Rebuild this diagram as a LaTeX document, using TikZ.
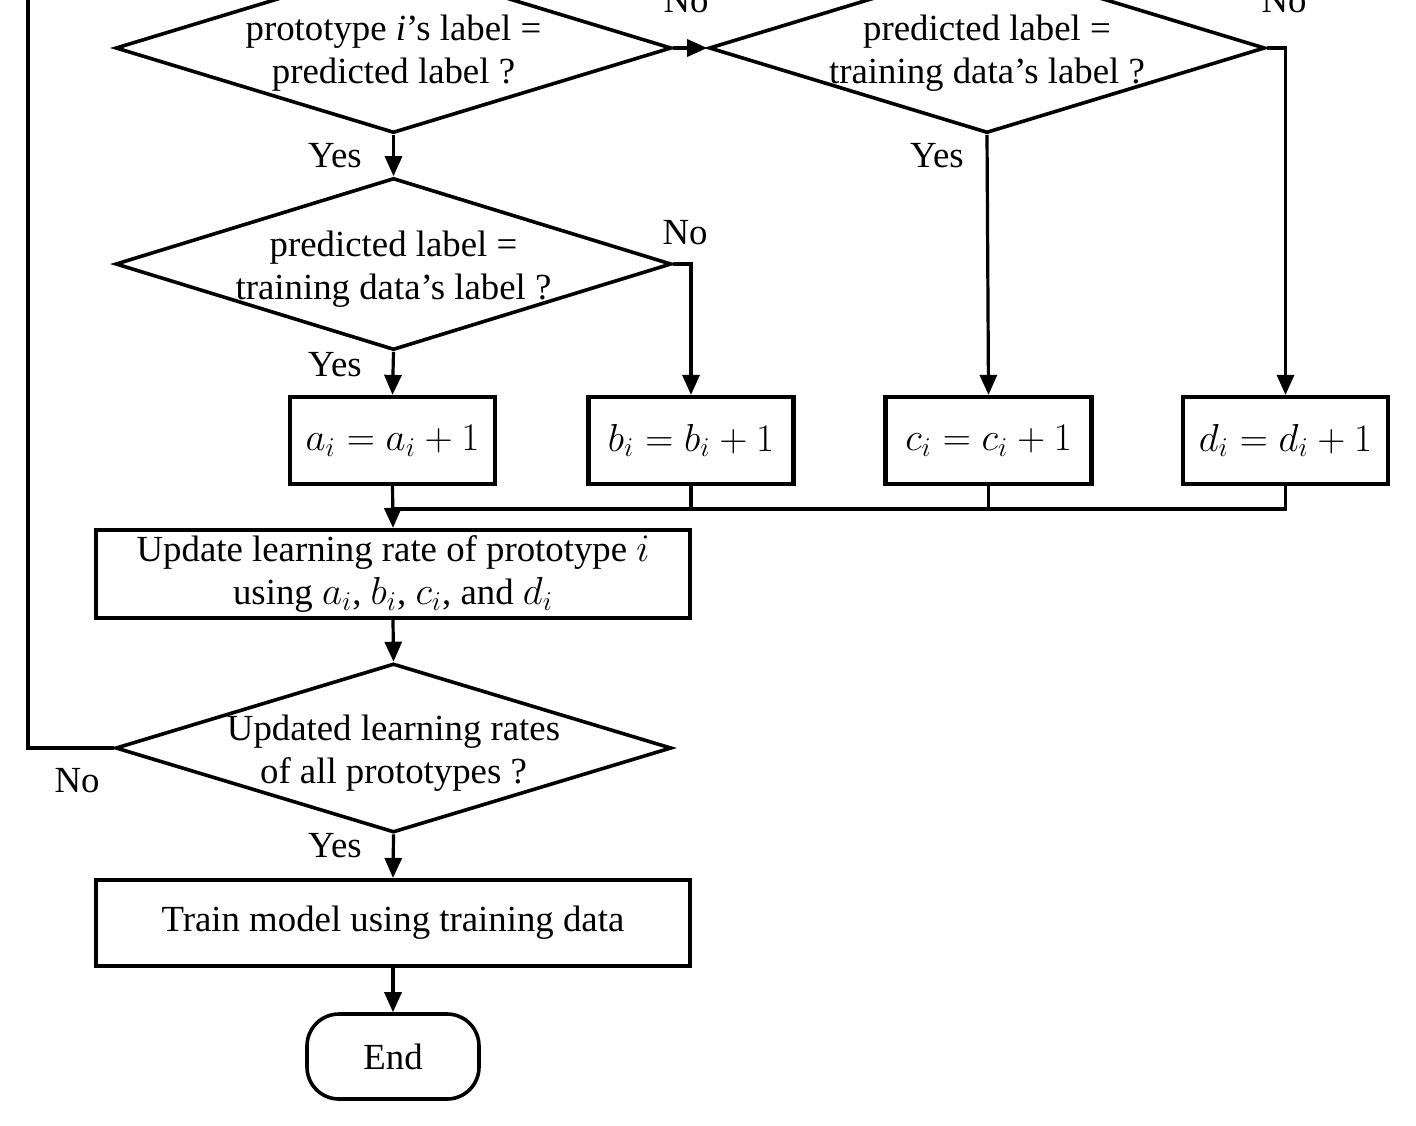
\documentclass[tikz,border=0pt]{standalone}
\usepackage{fontspec}
\usepackage{graphicx}
\setmainfont{Liberation Serif}
\usetikzlibrary{shapes.geometric,arrows.meta}
\newcommand{\zbox}[1]{\makebox[0pt]{\smash{\raisebox{-7pt}{\begin{tabular}{@{}c@{}}#1\end{tabular}}}}}
\newcommand{\mm}[1]{\scalebox{1.13}{$#1$}}
\begin{document}
\begin{tikzpicture}[x=0.5pt,y=-0.5pt,
  every node/.style={font=\fontsize{18.4}{21.5}\selectfont},
  dia/.style={draw, shape=diamond, line width=1.8pt, inner sep=0pt, minimum width=278pt},
  box/.style={draw, rectangle, line width=2.1pt, inner sep=0pt, align=center},
  conn/.style={line width=1.6pt},
  arr/.style={conn, -{Triangle[length=10pt,width=8.5pt]}},
  lbl/.style={anchor=base, inner sep=0pt}]
\clip (0,0) rectangle (1416,1125);
\fill[white] (0,0) rectangle (1416,1125);

% decisions
\node[dia, minimum height=85pt] (d1) at (393.5,48) {\zbox{prototype \textit{i}’s label =\\predicted label ?}};
\node[dia, minimum height=85pt] (d2) at (987,48) {\zbox{predicted label =\\training data’s label ?}};
\node[dia, minimum height=86pt] (d3) at (393.5,264) {\zbox{predicted label =\\training data’s label ?}};
\node[dia, minimum height=84.5pt] (d4) at (393.5,748) {\zbox{Updated learning rates\\of all prototypes ?}};

% counters
\node[box, minimum width=102.5pt, minimum height=43.5pt] (a) at (392.5,440.5) {\mm{a_i = a_i + 1}};
\node[box, minimum width=102.5pt, minimum height=43.5pt] (b) at (691,440.5) {\mm{b_i = b_i + 1}};
\node[box, minimum width=103pt, minimum height=43.5pt] (c) at (988.5,440.5) {\mm{c_i = c_i + 1}};
\node[box, minimum width=102.5pt, minimum height=43.5pt] (d) at (1285.5,440.5) {\mm{d_i = d_i + 1}};

\node[box, minimum width=297pt, minimum height=44pt] (upd) at (393,574) {Update learning rate of prototype \mm{i}\\using \mm{a_i}, \mm{b_i}, \mm{c_i}, and \mm{d_i}};
\node[box, minimum width=297pt, minimum height=43pt] (train) at (393,923) {Train model using training data};
\node[draw, line width=1.8pt, rounded corners=16pt, minimum width=86pt, minimum height=42.5pt, inner sep=0pt] (end) at (393,1056.5) {End};

% coordinates
\coordinate (d2r) at (1285.5,48);
\coordinate (d3r) at (691,264);
\coordinate (merge) at (393,509);
\coordinate (bm) at (691,509);
\coordinate (cm) at (988.5,509);
\coordinate (dm) at (1285.5,509);
\coordinate (loopc) at (28,748);
\coordinate (looptop) at (28,-20);

% connectors
\draw[arr] (d1.east) -- (d2.west);
\draw[arr] (d2.east) -- (d2r) -- (d.north);
\draw[arr] (d1.south) -- (d3.north);
\draw[arr] (d2.south) -- (c.north);
\draw[arr] (d3.south) -- (a.north);
\draw[arr] (d3.east) -- (d3r) -- (b.north);
\draw[arr] (a.south) -- (upd.north);
\draw[conn] (b.south) -- (bm);
\draw[conn] (c.south) -- (cm);
\draw[conn] (d.south) -- (dm) -- (merge);
\draw[arr] (upd.south) -- (d4.north);
\draw[conn] (d4.west) -- (loopc) -- (looptop);
\draw[arr] (d4.south) -- (train.north);
\draw[arr] (train.south) -- (end.north);

% labels
\node[lbl] (no1) at (686,12) {No};
\node[lbl] (no2) at (1284,12) {No};
\node[lbl] (yes1) at (335,167) {Yes};
\node[lbl] (yes2) at (937,167) {Yes};
\node[lbl] (no3) at (685,244) {No};
\node[lbl] (yes3) at (335,376) {Yes};
\node[lbl] (no4) at (77,792) {No};
\node[lbl] (yes4) at (335,857) {Yes};
\end{tikzpicture}
\end{document}
